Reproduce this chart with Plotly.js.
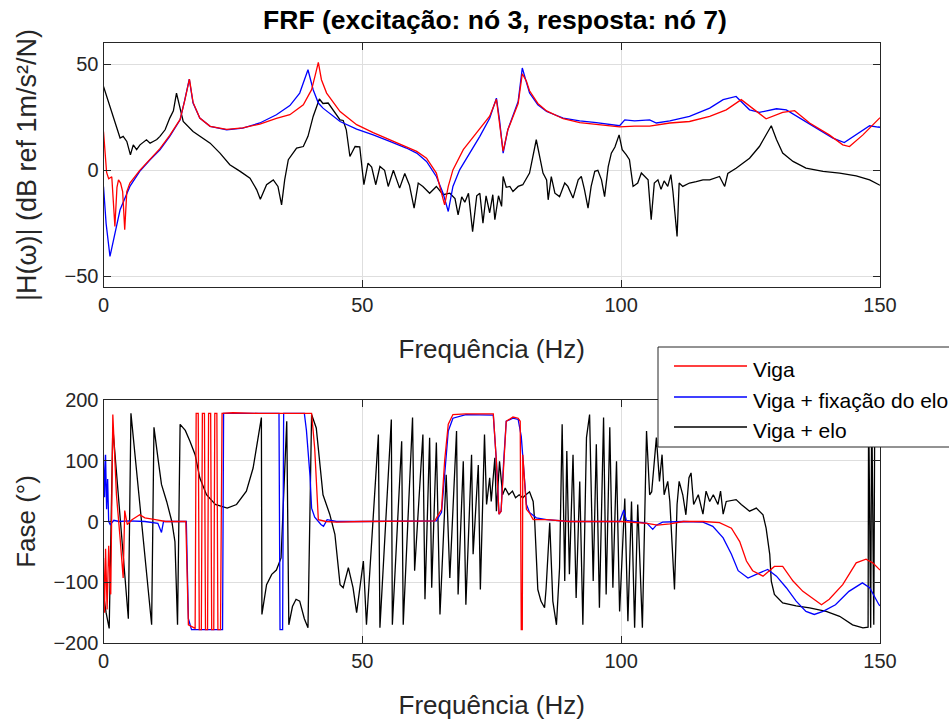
<!DOCTYPE html>
<html>
<head>
<meta charset="utf-8">
<script src="https://cdn.plot.ly/plotly-3.0.1.min.js"></script>
<style>html,body{margin:0;padding:0;background:#fff;}#chart{width:949px;height:722px;}</style>
</head>
<body>
<div id="chart"></div>
<script>
// ---------- Magnitude (dB) ----------
const magFreqViga = [0,0.6,1.0,1.6,2.2,2.6,2.9,3.3,3.7,4.1,4.5,5.1,7.0,9.0,10.9,12.8,14.8,15.7,16.6,17.3,18.6,20.6,23.8,26.9,30.2,33.4,36.0,38.6,40.2,41.0,41.5,42.1,43.1,45.7,48.9,52.1,55.3,58.5,60.5,62.4,64.3,65.3,65.9,66.6,67.5,69.5,72.0,74.6,75.9,76.5,77.2,78.1,79.1,80.1,80.9,81.7,82.3,83.9,85.6,88.8,92.0,95.2,99.7,102.6,105.5,109.4,113.2,117.1,120.3,123.2,125.4,128.0,131.2,133.5,136.4,140.2,142.8,144.1,146.7,149.8,150];
const magViga = [18.3,-1,-4,-3,-26.5,-8,-4.5,-6,-10,-28,-10,-6,0,5.5,10.2,16.5,24,33,43,32,24.6,20.7,19.3,20,21.8,24.5,26.2,30.9,38,45.8,50.9,42.7,36.4,27.7,21.5,17.8,14.4,11.2,8.9,5.7,-1.3,-10.8,-16.3,-7.6,0.2,9.7,17.5,25.5,33.5,23,9,19,25,31.5,45.5,42,37.5,31.5,28,24.3,22.5,21.7,20.5,20.8,20.8,22.3,23,25.4,28.5,33.3,29.3,24.3,27.3,28.1,22.3,16.7,12,11.2,16.7,24.6,24.8];

const magFreqFix = [0,0.5,1.25,2.2,3.2,5.1,7.0,9.0,10.9,12.8,14.8,15.7,16.57,17.3,18.6,20.6,23.8,26.9,30.2,33.4,36.0,37.9,39.5,40.5,41.5,42.4,45.7,48.9,52.1,55.3,58.5,60.5,62.4,64.3,65.6,66.6,67.5,68.8,70.8,72.7,74.6,75.9,76.5,77.2,78.1,79.1,80.1,80.9,81.7,82.3,83.9,85.6,88.8,92.0,95.2,99.7,100.7,102.6,105.5,106.8,109.4,113.2,117.1,119.7,122.2,124.8,126.7,130.0,131.9,135.1,138.3,140.9,143.1,145.4,148.0,149.6,150];
const magFix = [-7.6,-25,-40.6,-29.5,-18.6,-7.6,-0.5,5,9.7,16,23.8,33.2,43,31.7,24.6,20.7,19.1,19.9,22.3,26.2,30.5,36.4,47.4,38,31.7,29.3,23,19.4,16.7,13.6,10.5,8.1,4.2,-2.9,-10.8,-19.4,-7.6,0.2,8.1,16,24.5,34,23.8,8.1,19.1,25.4,32.5,48.2,41.1,36.4,30.9,27.7,24.6,23.3,22.5,21,23.8,23.3,23.8,22.3,23.3,25.4,29.3,33.3,34.8,28.5,27.3,29,28.5,23.8,19.1,15.2,13.1,16.7,21,20.4,20.3];

const magFreqElo = [0,1.25,2.2,3.2,3.8,4.5,5.2,5.75,6.4,7.05,8.3,9.0,9.6,10.3,10.9,11.9,12.8,13.5,14.1,14.8,15.4,17.3,18.6,20.6,22.5,24.4,26.4,28.3,29.6,30.3,31.5,32.8,33.7,34.4,35.0,35.7,37.3,38.6,39.5,40.5,41.7,42.4,43.4,44.4,45.7,46.3,46.9,47.6,48.6,49.5,50.3,51.1,51.8,52.6,53.4,54.3,55.0,56.0,57.2,58.2,59.1,60.0,60.8,61.7,63.0,64.3,65.6,66.9,67.9,68.5,69.2,69.8,70.5,71.3,72.1,72.7,73.3,73.9,74.6,75.2,75.6,76.3,76.9,77.2,77.8,78.5,79.1,80.1,81.0,82.3,83.0,83.6,84.3,84.9,85.6,85.9,86.5,87.2,88.1,89.1,89.7,90.7,91.7,92.3,92.9,93.6,94.2,94.9,95.5,96.2,96.8,97.5,98.1,98.8,99.6,100.2,101.0,101.6,102.3,103.2,103.9,104.5,105.2,105.8,106.4,107.1,107.7,108.3,109.0,109.6,110.0,110.8,111.2,111.9,113.2,114.5,115.8,117.1,119.0,120.0,120.6,122.2,123.5,124.8,126.7,128.0,129.0,130.0,131.2,133.2,135.7,139.0,142.2,145.4,148.0,149.8,150];
const magElo = [39.5,30.1,22.3,15.2,16,13.6,7.3,12,9.7,12,14.4,12.8,13.6,14.5,16,19.1,24.6,28,36.4,28.5,23,18.3,16,12.8,8.1,2.6,-0.5,-3.7,-9.2,-13.6,-6.8,-4.5,-7.6,-16.3,-4.5,5,10.5,11.2,16,25.4,33.6,31.5,31.7,28.5,23.8,23.5,19.1,6.5,11.2,11,-6.8,3.4,1.5,-6.8,1.8,0,-7.6,0,-8.4,-1.5,-7,-17.8,-6,-7.6,-10.8,-7.6,-11.5,-10.8,-13.3,-21,-12.5,-15,-10.8,-28.9,-12,-10.8,-24.9,-12,-20,-11.5,-23.3,-12,-17,-2.9,-8,-7.6,-10,-7.6,-6.8,-1.3,8.1,14.4,6,-1.3,-4.5,-13.9,-3,-10.8,-12.4,-6,-7.6,-13.1,-4.5,-2.9,-9,-17.8,-7.6,-0.5,0,-4.5,-12.4,1.8,8.1,11,16.7,9.7,7.3,5,-7.6,-6,-1.3,-2.9,-4.5,-23.3,-6,-4.5,-9,-5,-7.6,-2,-10,-31.2,-6,-7.6,-6,-5.3,-4.5,-4.5,-2.9,-7.6,-1.5,1,3.4,5.7,11.2,16.7,21,14.5,8.1,4.2,1,-0.5,-1.3,-2.6,-4.5,-6.8,-7];

// ---------- Phase (degrees) ----------
const phFreqViga = [0,0.2,0.4,0.7,1.0,1.4,1.8,2.5,3.2,3.8,4.1,4.6,5.5,7.0,8.0,9.0,10.0,12.0,14.0,15.9,16.4,17.7,17.9,18.3,18.5,18.9,19.1,19.5,19.7,20.1,20.3,20.7,20.9,21.3,21.5,21.9,22.1,22.6,22.9,25,30,35,40.2,40.8,41.2,41.5,43,45,50,55,60,64,65.3,65.9,66.6,67.5,70,75.3,75.9,76.4,76.8,77.3,77.8,79.1,80.1,80.5,80.7,80.9,81.0,81.7,82.3,83,85.6,90,95,100,105,107,109.4,112,115.8,119,121.3,122.9,124.2,125.4,127.4,129.6,131.2,133.2,135.1,137.1,138.7,140.2,142.8,145.4,147.3,148.6,149.8,150];
const phViga = [-60,-150,-45,-145,-40,-120,176,44,-27,-93,18,-5,3,11,6,5,3,0,0,0,-170,-176,178,178,-178,-178,178,178,-178,-178,178,178,-178,-178,178,178,-178,-178,178,179,178,178,178,120,40,3,0,-1,0,0,0,1,20,100,160,176,177,177,99,12,17,99,165,172,170,165,-178,-178,110,20,14,3,3,0,0,0,-3,-6,-4,0,0,-2,-11,-33,-65,-81,-90,-74,-74,-98,-115,-128,-137,-128,-104,-68,-62,-68,-79,-80];

const phFreqFix = [0,0.2,0.4,0.6,0.8,1.0,1.3,2,3,5,8,10.5,11.2,11.6,14,16.0,16.4,17.0,23.0,23.2,30,33.9,34.1,34.6,34.8,38.8,39.2,39.9,40.2,40.8,42.0,42.5,43.2,45,50,60,64.3,65.3,65.9,66.6,67.5,70,75.3,75.9,76.4,76.8,77.3,77.8,79.1,80.1,80.7,81.0,81.7,82.3,83.6,85.6,90,99.7,100.5,101,103,105,106.1,106.8,108,112,115.8,117.7,119.7,121.3,122.6,124.5,126.1,128.3,130.0,131.9,133.8,135.7,137.3,139,141.4,144.0,146.6,148.0,149.8,150];
const phFix = [110,40,110,20,70,0,-5,2,0,1,0,-3,-18,0,0,0,-160,-178,-178,178,178,178,-178,-178,178,178,150,74,22,7,-5,-8,3,0,0,0,1,15,72,149,170,176,175,99,12,17,99,165,170,168,140,110,28,15,6,3,0,0,19,2,0,-3,-13,-6,-1,0,-1,-8,-27,-54,-81,-93,-87,-79,-90,-109,-131,-148,-153,-148,-137,-115,-101,-109,-137,-139];

const phFreqElo = [0,0.5,1.1,1.8,4.8,5.3,9.3,9.75,10.6,11.2,12.2,13.2,13.8,14.3,14.8,15.8,16.7,17.7,18.6,19.9,21.6,23.9,25.7,27.6,28.9,29.9,30.5,30.6,31.5,32.5,33.4,34.3,35.4,35.8,36.5,37.2,37.9,38.8,39.5,40.2,41.1,42.4,43.7,44.7,45.7,46.3,47.3,48.2,48.9,50.2,50.8,53.1,53.4,55.6,55.8,57.6,57.9,59.7,60.1,61.7,62.1,63.0,63.4,64.3,65.0,66.2,66.9,68.2,68.5,69.5,70.0,71.1,71.4,72.4,72.8,73.6,74.0,74.6,74.9,75.6,75.9,76.5,77.1,77.6,78.3,79.0,79.6,80.3,81.0,81.6,82.3,83.0,83.3,83.9,84.5,85.2,85.5,86.2,86.8,87.5,88.1,88.6,89.1,89.5,90.0,90.7,91.3,92.0,92.6,93.3,93.9,94.6,95.2,95.8,96.6,97.1,97.8,98.4,99.1,99.7,100.7,101.3,102.0,102.6,103.2,104.1,104.9,105.5,105.9,106.8,107.4,107.9,108.3,109.0,109.4,110.3,110.8,111.2,111.9,112.5,113.1,113.5,114.0,114.9,115.8,116.4,117.1,117.8,118.7,119.2,119.7,120.3,122.2,123.2,124.8,126.1,127.4,128.0,128.7,129.0,129.6,131.2,133.8,136.4,139.6,142.2,144.7,146.7,147.7,147.8,148.2,148.4,148.8,149.0];
const phElo = [-120,-150,-176,155,-160,178,-170,155,99,61,33,0,-33,-170,160,150,132,110,72,44,28,22,28,50,88,138,171,-153,-104,-87,-80,-60,165,-170,-140,-128,-131,-160,-175,176,154,44,12,-21,-104,-109,-76,-109,-150,-65,-170,143,-175,168,-170,132,-170,171,-81,143,-128,138,-109,130,-153,77,-93,149,-120,99,-137,110,-54,93,-112,143,28,72,33,105,17,99,44,55,44,50,39,44,39,44,49,33,0,-112,-131,-142,-110,-2,-131,-170,-76,160,-98,116,-87,110,-126,66,-170,138,176,-98,127,-142,171,-120,155,-109,99,-148,38,-164,33,-175,28,-175,149,44,49,138,66,110,44,66,33,-112,28,66,44,11,72,80,28,44,12,50,33,44,28,50,12,33,36,28,17,22,11,-11,-54,-98,-120,-134,-139,-142,-148,-156,-170,-175,-174,200,-175,200,-170,200];

// ---------- Text ----------
const titleText = 'FRF (excitação: nó 3, resposta: nó 7)';
const xTitle = 'Frequência (Hz)';
const yTitleMag = '|H(ω)| (dB ref 1m/s²/N)';
const yTitlePh = 'Fase (°)';
const seriesNames = ['Viga', 'Viga + fixação do elo', 'Viga + elo'];
const seriesColors = ['#ff0000', '#0000ff', '#000000'];
const xTicks = [0, 50, 100, 150];
const yTicksMag = [-50, 0, 50];
const yTicksPh = [-200, -100, 0, 100, 200];

const FONT = 'Liberation Sans, Arial, Helvetica, sans-serif';
const LW = 1.3;

const traces = [
  {x: magFreqViga, y: magViga, xaxis: 'x', yaxis: 'y', name: seriesNames[0]},
  {x: magFreqFix, y: magFix, xaxis: 'x', yaxis: 'y', name: seriesNames[1]},
  {x: magFreqElo, y: magElo, xaxis: 'x', yaxis: 'y', name: seriesNames[2]},
  {x: phFreqViga, y: phViga, xaxis: 'x2', yaxis: 'y2', name: seriesNames[0]},
  {x: phFreqFix, y: phFix, xaxis: 'x2', yaxis: 'y2', name: seriesNames[1]},
  {x: phFreqElo, y: phElo, xaxis: 'x2', yaxis: 'y2', name: seriesNames[2]}
].map((t, i) => Object.assign(t, {
  type: 'scatter', mode: 'lines', showlegend: false, hoverinfo: 'skip',
  line: {color: seriesColors[i % 3], width: LW}
}));
const ordered = [traces[2], traces[1], traces[0], traces[5], traces[4], traces[3]];

const axisCommon = {
  showline: true, mirror: 'ticks', linecolor: '#262626', linewidth: 1,
  ticks: 'inside', ticklen: 7, tickcolor: '#262626', tickwidth: 1,
  showgrid: true, gridcolor: '#dedede', gridwidth: 1, zeroline: false,
  tickfont: {family: FONT, size: 20, color: '#262626'},
  automargin: false
};
const XD = [103.5/949, 880/949];
const labelFont = {family: FONT, size: 26, color: '#262626'};

const layout = {
  width: 949, height: 722,
  margin: {l: 0, r: 0, t: 0, b: 0},
  paper_bgcolor: '#ffffff', plot_bgcolor: '#ffffff',
  showlegend: false,
  title: {text: '<b>' + titleText + '</b>', x: 495/949, xanchor: 'center', y: 1 - 20/722, yanchor: 'middle',
    font: {family: FONT, size: 26.5, color: '#000000'}},
  xaxis: Object.assign({}, axisCommon, {domain: XD, anchor: 'y', range: [0, 150], tickvals: xTicks,
    title: {text: xTitle, font: labelFont, standoff: 24}}),
  yaxis: Object.assign({}, axisCommon, {domain: [1 - 287/722, 1 - 43/722], anchor: 'x', range: [-55, 60], tickvals: yTicksMag,
    title: {text: yTitleMag, font: {family: FONT, size: 27, color: '#262626'}, standoff: 20}}),
  xaxis2: Object.assign({}, axisCommon, {domain: XD, anchor: 'y2', range: [0, 150], tickvals: xTicks,
    title: {text: xTitle, font: labelFont, standoff: 24}}),
  yaxis2: Object.assign({}, axisCommon, {domain: [1 - 643/722, 1 - 400/722], anchor: 'x2', range: [-200, 200], tickvals: yTicksPh,
    title: {text: yTitlePh, font: labelFont, standoff: 10}}),
  shapes: [
    {type: 'rect', xref: 'paper', yref: 'paper', x0: 658/949, x1: 1.05, y0: 1 - 447/722, y1: 1 - 347/722,
      fillcolor: '#ffffff', line: {color: '#262626', width: 1}, layer: 'above'}
  ],
  annotations: []
};
const legY = [366, 397, 427];
seriesNames.forEach((nm, i) => {
  layout.shapes.push({type: 'line', xref: 'paper', yref: 'paper', x0: 674/949, x1: 747/949,
    y0: 1 - legY[i]/722, y1: 1 - legY[i]/722, line: {color: seriesColors[i], width: LW}, layer: 'above'});
  layout.annotations.push({xref: 'paper', yref: 'paper', x: 751/949, y: 1 - (legY[i] + 3)/722,
    xanchor: 'left', yanchor: 'middle', text: nm, showarrow: false,
    font: {family: FONT, size: 21, color: '#000000'}});
});

Plotly.newPlot('chart', ordered, layout, {staticPlot: true, displayModeBar: false});
</script>
</body>
</html>
